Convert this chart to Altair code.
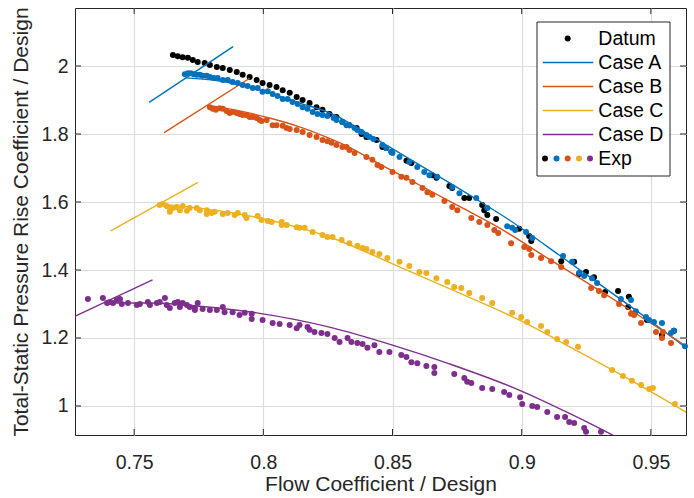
import altair as alt
import pandas as pd

# ---------------- data ----------------
datum_x = [0.7650,0.7669,0.7688,0.7708,0.7727,0.7746,0.7773,0.7793,0.7820,0.7843,0.7870,0.7897,0.7920,0.7947,0.7974,0.7997,0.8024,0.8051,0.8075,0.8102,0.8129,0.8152,0.8179,0.8206,0.8229,0.8256,0.8283,0.8306,0.8333,0.8361,0.8380,0.8399,0.8438,0.8461,0.8476,0.8496,0.8554,0.8573,0.8654,0.8670,0.8720,0.8731,0.8778,0.8797,0.8847,0.8855,0.8867,0.8901,0.8990,0.9029,0.9037,0.9153,0.9203,0.9222,0.9249,0.9280,0.9323,0.9373,0.9415,0.9412,0.9485,0.9543,0.9589]
datum_y = [2.032,2.029,2.026,2.024,2.018,2.012,2.009,2.003,1.997,1.994,1.988,1.982,1.974,1.968,1.959,1.950,1.944,1.938,1.929,1.921,1.909,1.900,1.891,1.879,1.871,1.859,1.850,1.835,1.826,1.818,1.800,1.791,1.782,1.762,1.759,1.747,1.721,1.715,1.679,1.671,1.647,1.641,1.612,1.612,1.591,1.576,1.562,1.550,1.521,1.500,1.485,1.426,1.424,1.388,1.394,1.379,1.335,1.338,1.321,1.291,1.253,1.209,1.221]

expA_x = [0.7696,0.7708,0.7719,0.7731,0.7742,0.7754,0.7765,0.7781,0.7793,0.7808,0.7823,0.7843,0.7862,0.7881,0.7901,0.7920,0.7939,0.7959,0.7978,0.7997,0.8017,0.8036,0.8055,0.8075,0.8094,0.8113,0.8133,0.8152,0.8171,0.8191,0.8210,0.8229,0.8248,0.8272,0.8283,0.8306,0.8322,0.8333,0.8353,0.8364,0.8380,0.8399,0.8411,0.8426,0.8461,0.8476,0.8496,0.8500,0.8527,0.8565,0.8596,0.8623,0.8643,0.8673,0.8731,0.8759,0.8824,0.8867,0.8944,0.8963,0.8975,0.9017,0.9041,0.9160,0.9195,0.9222,0.9242,0.9272,0.9292,0.9384,0.9423,0.9442,0.9481,0.9493,0.9512,0.9543,0.9578,0.9589,0.9632]
expA_y = [1.976,1.979,1.979,1.976,1.974,1.974,1.971,1.971,1.968,1.965,1.965,1.959,1.959,1.953,1.950,1.944,1.941,1.935,1.935,1.924,1.926,1.918,1.912,1.903,1.903,1.894,1.888,1.879,1.874,1.865,1.859,1.856,1.853,1.847,1.841,1.835,1.826,1.826,1.818,1.812,1.806,1.797,1.791,1.785,1.768,1.759,1.747,1.744,1.732,1.718,1.703,1.688,1.679,1.674,1.644,1.626,1.612,1.582,1.529,1.524,1.518,1.512,1.494,1.441,1.424,1.391,1.382,1.376,1.362,1.315,1.312,1.279,1.262,1.253,1.247,1.244,1.215,1.221,1.176]

expB_x = [0.7793,0.7804,0.7816,0.7831,0.7843,0.7858,0.7870,0.7881,0.7897,0.7908,0.7920,0.7935,0.7947,0.7959,0.7974,0.7986,0.7993,0.8013,0.8036,0.8051,0.8075,0.8090,0.8102,0.8129,0.8152,0.8179,0.8206,0.8229,0.8248,0.8264,0.8283,0.8306,0.8322,0.8333,0.8353,0.8399,0.8422,0.8442,0.8457,0.8500,0.8534,0.8554,0.8577,0.8616,0.8635,0.8654,0.8701,0.8731,0.8751,0.8805,0.8836,0.8867,0.8894,0.8909,0.8959,0.9010,0.9029,0.9037,0.9075,0.9114,0.9153,0.9269,0.9299,0.9319,0.9377,0.9423,0.9435,0.9462,0.9520,0.9547,0.9543,0.9578]
expB_y = [1.879,1.874,1.871,1.876,1.874,1.868,1.862,1.865,1.862,1.859,1.856,1.856,1.850,1.850,1.847,1.841,1.838,1.841,1.826,1.826,1.824,1.818,1.815,1.812,1.806,1.797,1.791,1.782,1.779,1.774,1.768,1.762,1.762,1.753,1.744,1.732,1.724,1.709,1.703,1.688,1.674,1.671,1.659,1.641,1.629,1.621,1.603,1.585,1.576,1.553,1.541,1.532,1.518,1.509,1.479,1.468,1.462,1.444,1.435,1.426,1.409,1.347,1.338,1.326,1.300,1.271,1.268,1.244,1.218,1.218,1.200,1.185]

expC_x = [0.7599,0.7611,0.7626,0.7638,0.7638,0.7650,0.7665,0.7677,0.7688,0.7704,0.7715,0.7742,0.7754,0.7781,0.7781,0.7800,0.7812,0.7843,0.7862,0.7889,0.7901,0.7928,0.7935,0.7978,0.7993,0.8017,0.8032,0.8071,0.8071,0.8090,0.8129,0.8140,0.8160,0.8191,0.8229,0.8248,0.8268,0.8303,0.8333,0.8364,0.8384,0.8399,0.8422,0.8449,0.8480,0.8527,0.8565,0.8604,0.8631,0.8670,0.8712,0.8739,0.8766,0.8797,0.8847,0.8886,0.8963,0.8998,0.9021,0.9075,0.9099,0.9137,0.9172,0.9218,0.9350,0.9392,0.9427,0.9462,0.9493,0.9508,0.9593]
expC_y = [1.591,1.594,1.588,1.582,1.571,1.582,1.585,1.576,1.588,1.574,1.582,1.582,1.576,1.576,1.565,1.568,1.571,1.565,1.568,1.562,1.568,1.562,1.553,1.559,1.547,1.544,1.541,1.541,1.532,1.532,1.526,1.524,1.524,1.512,1.503,1.497,1.497,1.488,1.479,1.471,1.465,1.462,1.453,1.447,1.435,1.424,1.412,1.394,1.391,1.376,1.365,1.350,1.347,1.332,1.318,1.303,1.274,1.262,1.247,1.235,1.218,1.197,1.188,1.174,1.106,1.088,1.074,1.062,1.050,1.053,1.006]

expD_x = [0.7321,0.7379,0.7395,0.7406,0.7418,0.7433,0.7445,0.7452,0.7476,0.7510,0.7522,0.7553,0.7561,0.7588,0.7599,0.7619,0.7626,0.7638,0.7657,0.7669,0.7677,0.7688,0.7704,0.7715,0.7735,0.7735,0.7746,0.7765,0.7793,0.7820,0.7843,0.7850,0.7881,0.7908,0.7928,0.7955,0.7955,0.7997,0.8036,0.8063,0.8102,0.8129,0.8140,0.8171,0.8179,0.8198,0.8225,0.8248,0.8276,0.8295,0.8326,0.8341,0.8364,0.8384,0.8403,0.8430,0.8449,0.8488,0.8534,0.8554,0.8573,0.8596,0.8631,0.8662,0.8662,0.8739,0.8778,0.8789,0.8805,0.8847,0.8886,0.8932,0.8952,0.8994,0.9002,0.9041,0.9060,0.9099,0.9137,0.9168,0.9184,0.9203,0.9242,0.9249,0.9307]
expD_y = [1.315,1.318,1.303,1.306,1.303,1.312,1.315,1.300,1.303,1.297,1.300,1.306,1.297,1.303,1.306,1.318,1.297,1.288,1.303,1.306,1.291,1.303,1.297,1.291,1.288,1.282,1.303,1.285,1.282,1.282,1.291,1.276,1.276,1.268,1.274,1.271,1.256,1.253,1.244,1.241,1.238,1.229,1.238,1.232,1.224,1.218,1.215,1.212,1.200,1.188,1.200,1.188,1.185,1.182,1.171,1.179,1.159,1.159,1.150,1.144,1.129,1.126,1.118,1.115,1.097,1.094,1.082,1.071,1.068,1.053,1.050,1.041,1.032,1.026,1.006,1.000,0.997,0.982,0.968,0.968,0.953,0.950,0.935,0.924,0.924]

# simulation lines: a short straight stall-line segment plus the characteristic
caseA_seg_x = [0.7558, 0.7883]
caseA_seg_y = [1.893, 2.057]
caseA_x = [0.7700,0.7831,0.7986,0.8141,0.8257,0.8450,0.8604,0.8797,0.8952,0.9145,0.9300,0.9493,0.9647]
caseA_y = [1.965,1.956,1.929,1.891,1.862,1.779,1.709,1.621,1.547,1.444,1.359,1.253,1.165]

caseB_seg_x = [0.7616, 0.7947]
caseB_seg_y = [1.804, 1.964]
caseB_x = [0.7785,0.7908,0.8024,0.8140,0.8256,0.8333,0.8449,0.8604,0.8759,0.8913,0.9106,0.9299,0.9493,0.9647]
caseB_y = [1.885,1.868,1.847,1.821,1.787,1.761,1.712,1.650,1.587,1.524,1.432,1.341,1.247,1.171]

caseC_seg_x = [0.7409, 0.7747]
caseC_seg_y = [1.515, 1.658]
caseC_x = [0.7595,0.7715,0.7831,0.7986,0.8140,0.8256,0.8500,0.8720,0.8990,0.9222,0.9454,0.9647]
caseC_y = [1.594,1.585,1.574,1.553,1.524,1.497,1.418,1.345,1.253,1.159,1.062,0.977]

caseD_seg_x = [0.7265, 0.7571]
caseD_seg_y = [1.262, 1.371]
caseD_x = [0.7387,0.7561,0.7742,0.7974,0.8256,0.8500,0.8720,0.8990,0.9183,0.9350,0.9415]
caseD_y = [1.303,1.303,1.294,1.274,1.232,1.179,1.124,1.047,0.979,0.915,0.888]

x_ticks = [0.75, 0.8, 0.85, 0.9, 0.95]
y_ticks = [1.0, 1.2, 1.4, 1.6, 1.8, 2.0]
X_DOMAIN = [0.7271, 0.9636]
Y_DOMAIN = [0.9147, 2.1706]

legend_labels = ["Datum", "Case A", "Case B", "Case C", "Case D", "Exp"]

BLACK = "#000000"
BLUE = "#0072BD"
ORANGE = "#D95319"
YELLOW = "#EDB120"
PURPLE = "#7E2F8E"
INK = "#262626"
FONT = "Liberation Sans"

# ---------------- tables ----------------
def pts_table(pairs):
    rows = []
    for xs_, ys_, col in pairs:
        for a, b in zip(xs_, ys_):
            rows.append({"x": a, "y": b, "c": col})
    return pd.DataFrame(rows)

datum_df = pts_table([(datum_x, datum_y, BLACK)])
exp_df = pts_table([(expA_x, expA_y, BLUE), (expB_x, expB_y, ORANGE),
                    (expC_x, expC_y, YELLOW), (expD_x, expD_y, PURPLE)])

line_rows = []
for name, col, sx, sy, cx, cy in [
    ("A", BLUE, caseA_seg_x, caseA_seg_y, caseA_x, caseA_y),
    ("B", ORANGE, caseB_seg_x, caseB_seg_y, caseB_x, caseB_y),
    ("C", YELLOW, caseC_seg_x, caseC_seg_y, caseC_x, caseC_y),
    ("D", PURPLE, caseD_seg_x, caseD_seg_y, caseD_x, caseD_y),
]:
    for i, (a, b) in enumerate(zip(sx, sy)):
        line_rows.append({"x": a, "y": b, "c": col, "k": name + "seg", "o": i})
    for i, (a, b) in enumerate(zip(cx, cy)):
        line_rows.append({"x": a, "y": b, "c": col, "k": name + "cur", "o": i})
lines_df = pd.DataFrame(line_rows)

W, H = 611, 427

xscale = alt.Scale(domain=X_DOMAIN, nice=False, zero=False)
yscale = alt.Scale(domain=Y_DOMAIN, nice=False, zero=False)

x_axis = alt.Axis(values=x_ticks, format="~g", grid=True, labelPadding=18,
                  title="Flow Coefficient / Design", titleX=W / 2, titleY=55,
                  titleBaseline="alphabetic")
y_axis = alt.Axis(values=y_ticks, format="~g", grid=True, labelPadding=7,
                  title="Total-Static Pressure Rise Coefficient / Design",
                  titleX=-48, titleY=H / 2, titleBaseline="alphabetic")


def X(field="x"):
    return alt.X(f"{field}:Q", scale=xscale, axis=x_axis)


def Y(field="y"):
    return alt.Y(f"{field}:Q", scale=yscale, axis=y_axis)


DOT = 36

datum_layer = alt.Chart(datum_df).mark_circle(size=DOT, opacity=1).encode(
    x=X(), y=Y(), color=alt.Color("c:N", scale=None))

line_layer = alt.Chart(lines_df).mark_line(strokeWidth=1.4, clip=True, interpolate="monotone").encode(
    x=X(), y=Y(), color=alt.Color("c:N", scale=None), detail="k:N", order="o:Q")

exp_layer = alt.Chart(exp_df).mark_circle(size=DOT, opacity=1).encode(
    x=X(), y=Y(), color=alt.Color("c:N", scale=None))

xt = pd.DataFrame({"v": x_ticks})
yt = pd.DataFrame({"v": y_ticks})
TL = 6
tick_layers = [
    alt.Chart(xt).mark_rule(color=INK, strokeWidth=1).encode(x=X("v"), y=alt.value(H), y2=alt.value(H - TL)),
    alt.Chart(xt).mark_rule(color=INK, strokeWidth=1).encode(x=X("v"), y=alt.value(0), y2=alt.value(TL)),
    alt.Chart(yt).mark_rule(color=INK, strokeWidth=1).encode(y=Y("v"), x=alt.value(0), x2=alt.value(TL)),
    alt.Chart(yt).mark_rule(color=INK, strokeWidth=1).encode(y=Y("v"), x=alt.value(W), x2=alt.value(W - TL)),
]

# ---------------- legend (drawn in pixel space inside the plot) ----------------
one = pd.DataFrame({"k": [0]})
LX0, LX1, LY0, LY1 = 462, 595, 14, 168
row_y = [30.5, 54.5, 78.5, 102.5, 126.5, 150.5]
legend_layers = [
    alt.Chart(one).mark_rect(fill="white", stroke=INK, strokeWidth=1).encode(
        x=alt.value(LX0), x2=alt.value(LX1), y=alt.value(LY0), y2=alt.value(LY1))
]
legend_layers.append(alt.Chart(one).mark_circle(size=DOT, opacity=1, color=BLACK).encode(
    x=alt.value(492.7), y=alt.value(row_y[0])))
for i, col in enumerate([BLUE, ORANGE, YELLOW, PURPLE]):
    legend_layers.append(alt.Chart(one).mark_rule(color=col, strokeWidth=1.4).encode(
        x=alt.value(467.7), x2=alt.value(518.3), y=alt.value(row_y[i + 1])))
for xv, col in zip([470, 481.5, 492.7, 504, 515], [BLACK, BLUE, ORANGE, YELLOW, PURPLE]):
    legend_layers.append(alt.Chart(one).mark_circle(size=DOT, opacity=1, color=col).encode(
        x=alt.value(xv), y=alt.value(row_y[5])))
for lab, yv in zip(legend_labels, row_y):
    legend_layers.append(alt.Chart(one).mark_text(
        text=lab, align="left", baseline="middle", fontSize=19.5, font=FONT, color="#000000").encode(
        x=alt.value(523.3), y=alt.value(yv)))

chart = alt.layer(datum_layer, line_layer, exp_layer, *tick_layers, *legend_layers).properties(
    width=W, height=H,
    padding={"left": 75, "top": 8, "right": 8, "bottom": 63},
    autosize=alt.AutoSizeParams(type="none"),
).configure_view(stroke=INK, strokeWidth=1).configure_axis(
    domain=False, ticks=False, tickSize=0,
    gridColor="#dcdcdc", gridWidth=1.2,
    labelFont=FONT, labelFontSize=19.5, labelColor=INK,
    titleFont=FONT, titleFontSize=21, titleFontWeight="normal", titleColor=INK,
)

chart.save("out.html", embed_options={"renderer": "svg", "actions": False})
